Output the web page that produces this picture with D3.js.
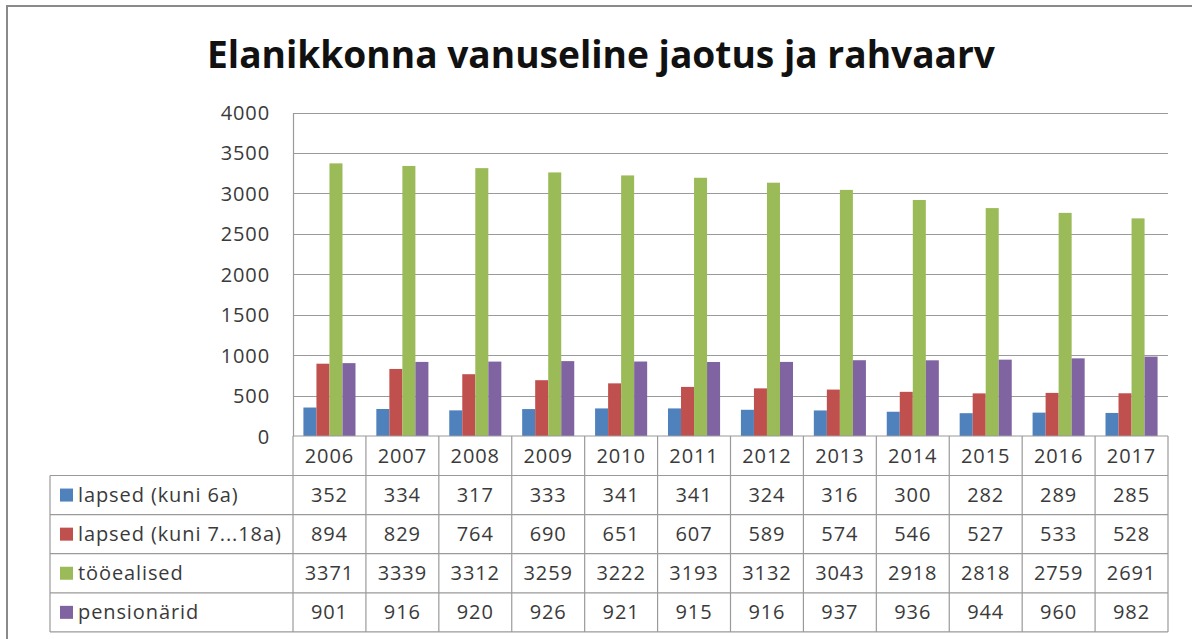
<!DOCTYPE html>
<html>
<head>
<meta charset="utf-8">
<script src="https://cdn.jsdelivr.net/npm/d3@7"></script>
<style>
  html, body { margin: 0; padding: 0; background: #fff; }
  svg { display: block; }
</style>
</head>
<body>
<svg id="chart" width="1192" height="639"></svg>
<script>
const title = "Elanikkonna vanuseline jaotus ja rahvaarv";
const years = ["2006","2007","2008","2009","2010","2011","2012","2013","2014","2015","2016","2017"];
const seriesNames = ["lapsed (kuni 6a)", "lapsed (kuni 7...18a)", "tööealised", "pensionärid"];
const lapsedKuni6 = [352, 334, 317, 333, 341, 341, 324, 316, 300, 282, 289, 285];
const lapsedKuni718 = [894, 829, 764, 690, 651, 607, 589, 574, 546, 527, 533, 528];
const tooealised = [3371, 3339, 3312, 3259, 3222, 3193, 3132, 3043, 2918, 2818, 2759, 2691];
const pensionarid = [901, 916, 920, 926, 921, 915, 916, 937, 936, 944, 960, 982];
const colors = ["#4F81BD", "#C0504D", "#9BBB59", "#8064A2"];
const yTicks = [0, 500, 1000, 1500, 2000, 2500, 3000, 3500, 4000];

const seriesValues = [lapsedKuni6, lapsedKuni718, tooealised, pensionarid];

const svg = d3.select("#chart");
const font = "'Open Sans', 'DejaVu Sans', sans-serif";
const textColor = "#3a3a3a";
const lineColor = "#9a9a9a";

// outer border
svg.append("rect")
  .attr("x", 7).attr("y", 6).attr("width", 1200).attr("height", 640)
  .attr("fill", "#fff").attr("stroke", "#8a8a8a").attr("stroke-width", 2);

// layout
const plotLeft = 293, plotRight = 1168, plotTop = 112.5, plotBottom = 436;
const tableLeft = 50, rowH = 39.1;
const yearRowBottom = 475.5;

// title
const t = svg.append("text")
  .attr("x", 601).attr("y", 68)
  .attr("text-anchor", "middle")
  .attr("font-family", font)
  .attr("font-weight", "bold")
  .attr("font-size", 38)
  .attr("fill", "#111")
  .text(title);
t.attr("textLength", 788).attr("lengthAdjust", "spacingAndGlyphs");

// scales
const x0 = d3.scaleBand().domain(years).range([plotLeft, plotRight]).paddingInner(0).paddingOuter(0);
const x1 = d3.scaleBand().domain(d3.range(seriesNames.length)).range([0, x0.bandwidth()]).paddingInner(0).paddingOuter(0.8);
const y = d3.scaleLinear().domain([0, 4000]).range([plotBottom, plotTop]);

// gridlines
svg.append("g").selectAll("line").data(yTicks.filter(d => d > 0)).join("line")
  .attr("x1", plotLeft).attr("x2", plotRight)
  .attr("y1", d => Math.round(y(d)) + 0.5).attr("y2", d => Math.round(y(d)) + 0.5)
  .attr("stroke", lineColor).attr("stroke-width", 1.2);

// y axis
const yAxis = d3.axisLeft(y).tickValues(yTicks).tickSize(0).tickPadding(23).tickFormat(d3.format("d"));
const gy = svg.append("g").attr("transform", `translate(${plotLeft},0)`).call(yAxis);
gy.select(".domain").attr("stroke", lineColor).attr("stroke-width", 1.2);
gy.selectAll("text")
  .attr("font-family", font).attr("font-size", 20).attr("letter-spacing", 0.9)
  .attr("fill", textColor).attr("dy", "0.35em");

// bars
const groups = svg.append("g").selectAll("g").data(years).join("g")
  .attr("transform", d => `translate(${x0(d)},0)`);
groups.selectAll("rect")
  .data((yr, i) => seriesValues.map((vals, s) => ({ s, v: vals[i] })))
  .join("rect")
  .attr("x", d => x1(d.s))
  .attr("width", x1.bandwidth())
  .attr("y", d => y(d.v))
  .attr("height", d => y(0) - y(d.v))
  .attr("fill", d => colors[d.s]);

// data table
const table = svg.append("g");
const tableBottom = yearRowBottom + rowH * seriesNames.length;
// horizontal lines
table.append("line")
  .attr("x1", plotLeft).attr("x2", plotRight).attr("y1", plotBottom).attr("y2", plotBottom)
  .attr("stroke", lineColor).attr("stroke-width", 1.2);
table.selectAll("line.h").data(d3.range(seriesNames.length + 1)).join("line")
  .attr("class", "h")
  .attr("x1", tableLeft).attr("x2", plotRight)
  .attr("y1", i => yearRowBottom + i * rowH).attr("y2", i => yearRowBottom + i * rowH)
  .attr("stroke", lineColor).attr("stroke-width", 1.2);
// vertical lines
table.append("line")
  .attr("x1", tableLeft).attr("x2", tableLeft).attr("y1", yearRowBottom).attr("y2", tableBottom)
  .attr("stroke", lineColor).attr("stroke-width", 1.2);
table.selectAll("line.v").data(d3.range(years.length + 1)).join("line")
  .attr("class", "v")
  .attr("x1", i => plotLeft + i * x0.step()).attr("x2", i => plotLeft + i * x0.step())
  .attr("y1", plotBottom).attr("y2", tableBottom)
  .attr("stroke", lineColor).attr("stroke-width", 1.2);

// year labels
table.selectAll("text.year").data(years).join("text")
  .attr("class", "year")
  .attr("x", d => x0(d) + x0.bandwidth() / 2)
  .attr("y", (plotBottom + yearRowBottom) / 2 + 7)
  .attr("text-anchor", "middle")
  .attr("font-family", font).attr("font-size", 20).attr("letter-spacing", 0.9)
  .attr("fill", textColor)
  .text(d => d);

// legend rows
seriesNames.forEach((name, s) => {
  const cy = yearRowBottom + s * rowH + rowH / 2;
  table.append("rect")
    .attr("x", 60).attr("y", cy - 6.5).attr("width", 13).attr("height", 13)
    .attr("fill", colors[s]);
  table.append("text")
    .attr("x", 78).attr("y", cy + 7)
    .attr("font-family", font).attr("font-size", 20).attr("letter-spacing", 0.9)
    .attr("fill", textColor)
    .text(name);
  table.selectAll(null).data(seriesValues[s]).join("text")
    .attr("x", (d, i) => x0(years[i]) + x0.bandwidth() / 2)
    .attr("y", cy + 7)
    .attr("text-anchor", "middle")
    .attr("font-family", font).attr("font-size", 20).attr("letter-spacing", 0.9)
    .attr("fill", textColor)
    .text(d => d);
});
</script>
</body>
</html>
